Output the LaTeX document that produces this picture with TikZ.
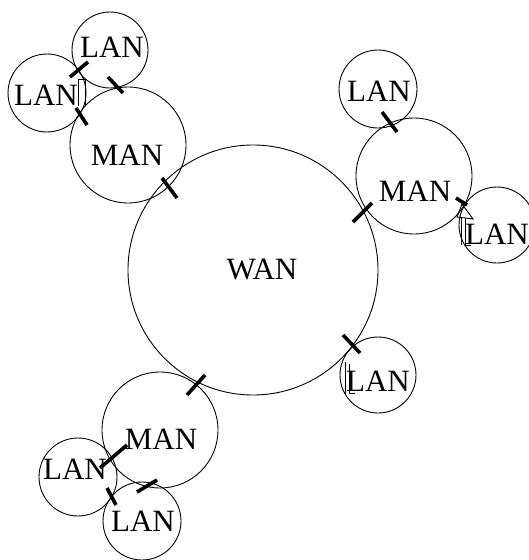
\documentclass[tikz,border=0pt]{standalone}
\usepackage{fontspec}
\setmainfont{Liberation Serif}
\begin{document}
\begin{tikzpicture}[x=1pt,y=-1pt,
  net/.style={circle,draw,line width=0.9pt,inner sep=0pt,minimum size=#1},
  lbl/.style={font=\fontsize{31}{31}\selectfont,inner sep=0pt},
  jmark/.style={line width=3.6pt},
  bar/.style={line width=0.9pt}]
\useasboundingbox (0,0) rectangle (529,560);
% circles
\node[net=250pt] (wan) at (253,270) {};
\node[net=116pt] (man1) at (128,145) {};
\node[net=116pt] (man2) at (414,176) {};
\node[net=116pt] (man3) at (160,430) {};
\node[net=76pt] (lan1) at (110,50) {};
\node[net=78pt] (lan2) at (47,93) {};
\node[net=78pt] (lan3) at (378,89) {};
\node[net=76pt] (lan4) at (497,225) {};
\node[net=76pt] (lan5) at (378,375) {};
\node[net=78pt] (lan6) at (78,477) {};
\node[net=78pt] (lan7) at (142,521) {};
% labels
\node[lbl] (twan) at (262,269) {WAN};
\node[lbl] (tman1) at (127,155) {MAN};
\node[lbl] (tman2) at (415,191) {MAN};
\node[lbl] (tman3) at (161,439) {MAN};
\node[lbl] (tlan1) at (112,47) {LAN};
\node[lbl] (tlan2) at (46,95) {LAN};
\node[lbl] (tlan3) at (379,91) {LAN};
\node[lbl] (tlan4) at (497,234) {LAN};
\node[lbl] (tlan5) at (378,381) {LAN};
\node[lbl] (tlan6) at (75,469) {LAN};
\node[lbl] (tlan7) at (143,521) {LAN};
% junction marks
\draw[jmark] (162,178) -- (177,198);
\draw[jmark] (353,222) -- (372,203);
\draw[jmark] (343,335) -- (360,353);
\draw[jmark] (187,395) -- (205,375);
\draw[jmark] (108,77) -- (123,93);
\draw[jmark] (70,77) -- (88,62);
\draw[jmark] (76,108) -- (87,125);
\draw[jmark] (382,112) -- (397,132);
\draw[jmark] (456,198) -- (467,205);
\draw[jmark] (100,468) -- (127,445);
\draw[jmark] (137,492) -- (157,480);
\draw[jmark] (107,488) -- (116,505);
% small bars
\draw[bar] (78,106) -- (78,79) -- (85,79) -- (85,106);
\draw[bar] (462,204) -- (457,217) -- (473,219) -- (462,204);
\draw[bar] (461,218) -- (461,245);
\draw[bar] (465,218) -- (465,245) -- (471,245);
\draw[bar] (345,362) -- (345,395);
\draw[bar] (349,364) -- (349,393) -- (355,393);
\end{tikzpicture}
\end{document}
